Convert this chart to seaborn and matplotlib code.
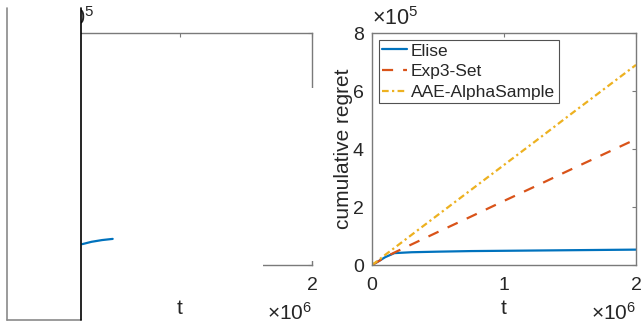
import matplotlib
matplotlib.use('Agg')
import matplotlib.pyplot as plt
import seaborn as sns
import numpy as np
from matplotlib.patches import Rectangle
from matplotlib.lines import Line2D
from matplotlib.ticker import FuncFormatter

# data (t in steps, regret in units)
t_steps = np.array([0, 0.05, 0.1, 0.17, 0.3, 0.5, 0.75, 1.0, 1.25, 1.5, 1.75, 2.0]) * 1e6
elise = np.array([0, 0.13, 0.27, 0.41, 0.44, 0.46, 0.48, 0.49, 0.50, 0.51, 0.52, 0.53]) * 1e5
exp3_set = np.array([0, 0.13, 0.27, 0.43, 0.71, 1.14, 1.67, 2.21, 2.74, 3.28, 3.81, 4.34]) * 1e5
aae_alpha = np.array([0, 0.17, 0.35, 0.59, 1.04, 1.73, 2.59, 3.45, 4.31, 5.18, 6.04, 6.90]) * 1e5

# left panel: only a short piece of the Elise curve is visible
left_t = np.array([0.26, 0.33, 0.41, 0.49]) * 1e6
left_elise = np.array([0.72, 0.80, 0.86, 0.90]) * 1e5

x_ticks = [0, 1e6, 2e6]
y_ticks = [0, 2e5, 4e5, 6e5, 8e5]

sns.set_theme(style="white")
plt.rcParams['font.family'] = ['Liberation Sans', 'DejaVu Sans']
plt.rcParams['mathtext.fontset'] = 'custom'
plt.rcParams['mathtext.rm'] = 'Liberation Sans'
plt.rcParams['mathtext.it'] = 'Liberation Sans:italic'

W, H = 643, 325
fig = plt.figure(figsize=(W / 100, H / 100), dpi=100)
fig.patch.set_facecolor('white')

spine_col = '#7a7a7a'
text_col = '#262626'


def fig_box(x, y, w, h):
    # pixel box (top-left origin) -> figure fraction rect
    return [x / W, 1 - (y + h) / H, w / W, h / H]


def style_axes(ax):
    ax.set_xlim(0, 2e6)
    ax.set_ylim(0, 8e5)
    ax.set_xticks(x_ticks)
    ax.set_yticks(y_ticks)
    ax.xaxis.set_major_formatter(FuncFormatter(lambda v, _: f'{v / 1e6:g}'))
    ax.yaxis.set_major_formatter(FuncFormatter(lambda v, _: f'{v / 1e5:g}'))
    ax.tick_params(direction='in', length=3, width=0.8, color=spine_col,
                   top=True, right=True, labelsize=14, labelcolor=text_col, pad=9)
    ax.tick_params(axis='y', pad=6)
    for s in ax.spines.values():
        s.set_color(spine_col)
        s.set_linewidth(1.0)
    ax.set_xlabel('t', fontsize=15, color=text_col, labelpad=3)
    ax.text(1.0, -0.235, r'$\times10^{6}$', transform=ax.transAxes, ha='right',
            va='baseline', fontsize=15, color=text_col)
    ax.text(0.0, 1.015, r'$\times10^{5}$', transform=ax.transAxes, ha='left',
            va='bottom', fontsize=15.5, color=text_col)


# left panel
ax1 = fig.add_axes(fig_box(48, 33, 264, 232))
sns.lineplot(x=left_t, y=left_elise, ax=ax1, color='#0072BD', lw=1.6)
style_axes(ax1)

# right panel
ax2 = fig.add_axes(fig_box(372, 33, 264, 232))
sns.lineplot(x=t_steps, y=elise, ax=ax2, color='#0072BD', lw=1.6, label='Elise')
sns.lineplot(x=t_steps, y=exp3_set, ax=ax2, color='#D95319', lw=1.6,
             linestyle=(0, (5, 4.5)), label='Exp3-Set')
sns.lineplot(x=t_steps, y=aae_alpha, ax=ax2, color='#EDB120', lw=1.6,
             linestyle=(0, (3, 1.5, 1, 1.5)), label='AAE-AlphaSample')
style_axes(ax2)
ax2.set_ylabel('cumulative regret', fontsize=15, color=text_col, labelpad=0)
leg = ax2.legend(loc='upper left', fontsize=12.5, frameon=True, fancybox=False,
                 borderaxespad=0.4, handlelength=1.4, handletextpad=0.25,
                 borderpad=0.2, labelspacing=0.32)
leg.get_frame().set_edgecolor('#262626')
leg.get_frame().set_linewidth(0.8)
for txt in leg.get_texts():
    txt.set_color(text_col)

# white patches hiding most of the left panel (as in the source figure)
covers = [
    (7, 8, 74, 312),     # big blank box over the left edge
    (300, 88, 20, 173),  # right spine of the left panel
    (81, 255, 182, 41),  # bottom spine and middle tick label
]
for (x, y, w, h) in covers:
    fig.add_artist(Rectangle(fig_box(x, y, w, h)[:2], w / W, h / H,
                             transform=fig.transFigure, facecolor='white',
                             edgecolor='none', zorder=10))

fig.add_artist(Line2D([7 / W, 7 / W], [1 - 8 / H, 1 - 320 / H], transform=fig.transFigure,
                      color='#8a8a8a', lw=1.2, zorder=11))
fig.add_artist(Line2D([7 / W, 81 / W], [1 - 320 / H, 1 - 320 / H], transform=fig.transFigure,
                      color='#8a8a8a', lw=1.2, zorder=11))
fig.add_artist(Line2D([81 / W, 81 / W], [1 - 8 / H, 1 - 320 / H], transform=fig.transFigure,
                      color='black', lw=1.2, zorder=11))

fig.savefig('out.png', dpi=100, facecolor='white')
